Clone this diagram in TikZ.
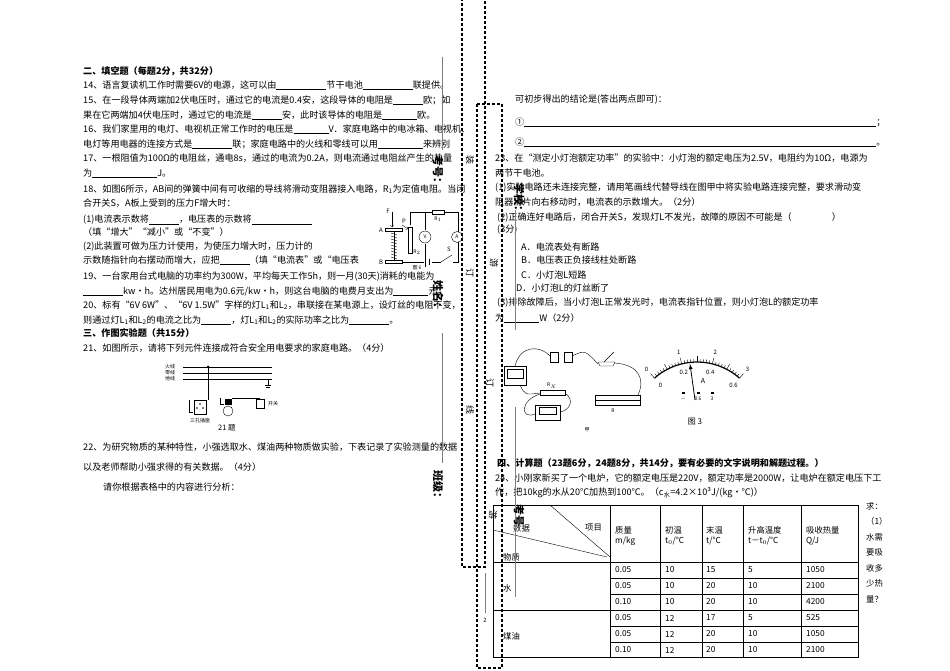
\documentclass[tikz,border=0pt]{standalone}
\usepackage{fontspec}
\setmainfont{Noto Sans CJK SC}
\usetikzlibrary{calc}
\newcommand{\bl}[1]{\rule[-1.5pt]{#1pt}{0.5pt}}
\begin{document}
\begin{tikzpicture}[x=1pt,y=-1pt,
 tx/.style={anchor=west,inner sep=0,font=\fontsize{9.1}{10}\selectfont},
 sm/.style={inner sep=0,font=\fontsize{5}{6}\selectfont},
 vt/.style={inner sep=0,font=\fontsize{11}{12}\selectfont\bfseries,rotate=-90},
 vs/.style={inner sep=0,font=\fontsize{9}{10}\selectfont,rotate=-90},
 dsh/.style={densely dashed,line width=1.1pt},
 gl/.style={gray,line width=0.8pt},
 cell/.style={anchor=west,inner sep=0,font=\fontsize{8.3}{10}\selectfont}]
\useasboundingbox (0,0) rectangle (950,671);
\fill[white] (0,0) rectangle (950,671);
% left column
\node[tx] (a0) at (83,71) {\textbf{二、填空题（每题2分，共32分）}};
\node[tx] (a1) at (83,85) {14、语言复读机工作时需要6V的电源，这可以由\bl{50}节干电池\bl{50}联提供。};
\node[tx] (a2) at (83,100) {15、在一段导体两端加2伏电压时，通过它的电流是0.4安，这段导体的电阻是\bl{30}欧；如};
\node[tx] (a3) at (83,115) {果在它两端加4伏电压时，通过它的电流是\bl{30}安，此时该导体的电阻是\bl{35}欧。};
\node[tx] (a4) at (83,129) {16、我们家里用的电灯、电视机正常工作时的电压是\bl{35}V．家庭电路中的电冰箱、电视机、};
\node[tx] (a5) at (83,144) {电灯等用电器的连接方式是\bl{40}联；家庭电路中的火线和零线可以用\bl{45}来辨别};
\node[tx] (a6) at (83,158) {17、一根阻值为100Ω的电阻丝，通电8s，通过的电流为0.2A，则电流通过电阻丝产生的热量};
\node[tx] (a7) at (83,173) {为\bl{65}J。};
\node[tx] (a8) at (83,189) {18、如图6所示，\textit{AB}间的弹簧中间有可收缩的导线将滑动变阻器接入电路，\textit{R}\textsubscript{1}为定值电阻。当闭};
\node[tx] (a9) at (83,203) {合开关S，A板上受到的压力\textit{F}增大时：};
\node[tx] (a10) at (83,220) {(1)电流表示数将\bl{30}，电压表的示数将\bl{60}};
\node[tx] (a11) at (83,232) {（填“增大”“减小”或“不变”）};
\node[tx] (a12) at (83,247) {(2)此装置可做为压力计使用，为使压力增大时，压力计的};
\node[tx] (a13) at (83,260) {示数随指针向右摆动而增大，应把\bl{30}（填“电流表”或“电压表};
\node[tx] (a14) at (83,277) {19、一台家用台式电脑的功率约为300W，平均每天工作5h，则一月(30天)消耗的电能为};
\node[tx] (a15) at (83,291) {\bl{40}kw•h。达州居民用电为0.6元/kw•h，则这台电脑的电费月支出为\bl{35}元。};
\node[tx] (a16) at (83,305) {20、标有“6V 6W”、“6V 1.5W”字样的灯L\textsubscript{1}和L\textsubscript{2}，串联接在某电源上，设灯丝的电阻不变，};
\node[tx] (a17) at (83,320) {则通过灯L\textsubscript{1}和L\textsubscript{2}的电流之比为\bl{30}，灯L\textsubscript{1}和L\textsubscript{2}的实际功率之比为\bl{40}。};
\node[tx] (a18) at (83,333) {\textbf{三、作图实验题（共15分）}};
\node[tx] (a19) at (83,348) {21、如图所示，请将下列元件连接成符合安全用电要求的家庭电路。（4分）};
\node[tx] (a20) at (83,447) {22、为研究物质的某种特性，小强选取水、煤油两种物质做实验，下表记录了实验测量的数据};
\node[tx] (a21) at (83,467) {以及老师帮助小强求得的有关数据。（4分）};
\node[tx] (a22) at (103,487) {请你根据表格中的内容进行分析：};
% figure 6
\draw (402,262) -- (458,262) -- (458,212) -- (410,212) -- (410,225);
\draw (425,212) -- (425,230); \draw (425,244) -- (425,262);
\node[circle,draw,fill=white,inner sep=0,minimum size=12pt,font=\fontsize{5}{5}\selectfont] (fv) at (425,237) {V};
\node[circle,draw,fill=white,inner sep=0,minimum size=11pt,font=\fontsize{5}{5}\selectfont] (fa) at (457,237) {A};
\node[draw,fill=white,minimum width=12pt,minimum height=4pt,inner sep=0] (fr1) at (438,212) {};
\node[sm,font=\fontsize{5}{5}\selectfont\itshape] (fr1l) at (438,219) {R$_1$};
\node[draw,fill=white,minimum width=4pt,minimum height=26pt,inner sep=0] (fr2) at (410,240) {};
\node[sm,font=\fontsize{5}{5}\selectfont\itshape] (fr2l) at (417,252) {R$_2$};
\draw[fill=white] (385,228) rectangle (402,231);
\draw[fill=white] (385,260) rectangle (402,263);
\foreach \yy in {233,236,...,257} \draw (391,\yy) -- (397,\yy+2);
\draw (394,231) -- (394,260);
\draw[->] (392,212) -- (392,227);
\node[sm,font=\fontsize{6}{6}\selectfont\itshape] (fF) at (388,211) {F};
\node[sm,font=\fontsize{6}{6}\selectfont\itshape] (fA) at (381,230) {A};
\node[sm,font=\fontsize{6}{6}\selectfont\itshape] (fB) at (381,262) {B};
\node[sm,font=\fontsize{6}{6}\selectfont\itshape] (fP) at (404,221) {P};
\draw[->] (402,225) -- (408,229);
\fill[white] (424,258) rectangle (432,266);
\draw (425,257) -- (425,267); \draw (429,259) -- (429,265);
\fill[white] (441,258) rectangle (453,266);
\draw (441,262) -- (452,255);
\node[sm,font=\fontsize{6}{6}\selectfont] (fS) at (449,249) {S};
\node[sm,font=\fontsize{5}{5}\selectfont] (fcap) at (417,268) {图 6};
% figure 21
\node[sm] (w1) at (170,367) {火线};
\node[sm] (w2) at (170,373) {零线};
\node[sm] (w3) at (170,379) {地线};
\draw (183,367) -- (272,367); \draw (183,373) -- (272,373); \draw (183,379) -- (272,379);
\fill (208,367) circle (1.5);
\draw (208,367) -- (208,400);
\draw (268,379) -- (268,385); \draw (265,385) -- (271,385); \draw (266,387) -- (270,387);
\draw (189,400) -- (189,412) -- (193,412);
\node[draw,minimum width=12pt,minimum height=14pt,inner sep=0] (sk) at (200,407) {};
\fill (197,408) circle (0.8); \fill (203,408) circle (0.8); \fill (200,404) circle (0.8);
\node[sm] (skl) at (200,421) {三孔插座};
\draw (220,398) -- (220,404) -- (224,404);
\node[draw,fill=black,minimum width=6pt,minimum height=5pt,inner sep=0] (hold) at (228,402) {};
\node[draw,circle,minimum size=10pt,inner sep=0] (bulb) at (228,411) {};
\draw (232,398) -- (260,398);
\node[draw,minimum width=8pt,minimum height=9pt,inner sep=0] (sw) at (260,404) {};
\node[sm] (swl) at (273,404) {开关};
\node[tx,font=\fontsize{7.5}{8}\selectfont] (c21) at (218,428) {21 题};
% right column
\node[tx] (b0) at (515,100) {可初步得出的结论是(答出两点即可)：};
\node[tx] (b1) at (515,122) {①\bl{352}；};
\node[tx] (b2) at (515,142) {②\bl{352}。};
\node[tx] (b3) at (495,158) {23、在“测定小灯泡额定功率”的实验中：小灯泡的额定电压为2.5V，电阻约为10Ω，电源为};
\node[tx] (b4) at (495,173) {两节干电池。};
\node[tx] (b5) at (495,188) {(1)实验电路还未连接完整，请用笔画线代替导线在图甲中将实验电路连接完整，要求滑动变};
\node[tx] (b6) at (495,202) {阻器滑片向右移动时，电流表的示数增大。（2分）};
\node[tx] (b7) at (497,217) {(2)正确连好电路后，闭合开关S，发现灯L不发光，故障的原因不可能是（\hspace{40pt}）};
\node[tx] (b8) at (497,230) {(3分)};
\node[tx] (b9) at (521,247) {A．电流表处有断路};
\node[tx] (b10) at (521,260) {B．电压表正负接线柱处断路};
\node[tx] (b11) at (521,275) {C．小灯泡L短路};
\node[tx] (b12) at (516,288) {D．小灯泡L的灯丝断了};
\node[tx] (b13) at (497,303) {(3)排除故障后，当小灯泡L正常发光时，电流表指针位置，则小灯泡L的额定功率};
\node[tx] (b14) at (495,318) {为\bl{35}W（2分）};
% figure jia
\draw (504,366) rectangle (526,385); \draw (507,369) rectangle (523,378);
\draw (550,352) rectangle (558,362); \draw (564,352) rectangle (572,362);
\draw (598,362) -- (615,362) -- (613,366) -- (600,366) -- cycle; \draw (604,362) -- (614,352);
\draw (540,390) rectangle (565,395); \node[sm,font=\fontsize{5}{5}\selectfont\itshape] (rxl) at (552,386) {R$_X$};
\draw (535,405) rectangle (560,420); \draw (539,407) rectangle (556,414);
\draw (595,395) rectangle (640,405); \draw (595,400) -- (640,400);
\node[sm,font=\fontsize{5}{5}\selectfont\itshape] (rl) at (613,411) {R};
\draw (515,366) .. controls (520,345) and (540,345) .. (550,356);
\draw (572,356) .. controls (585,350) .. (598,364);
\draw (615,363) .. controls (640,365) and (645,380) .. (638,395);
\draw (520,385) .. controls (525,395) .. (540,393);
\draw (540,394) .. controls (520,400) and (520,420) .. (535,414);
\draw (565,393) .. controls (575,400) and (570,410) .. (560,412);
\node[sm,font=\fontsize{5}{5}\selectfont] (jia) at (587,430) {甲};
% meter fig 3
\coordinate (mc) at (697,426);
\draw[line width=1.2pt] (mc) ++(-131.6:64) arc (-131.6:-48.4:64);
\foreach \a in {0,...,30} { \pgfmathsetmacro\ang{-131.6+\a*83.2/30}
  \pgfmathsetmacro\tl{mod(\a,5)==0?6:3}
  \draw (mc) ++(\ang:64) -- ++(\ang:\tl); }
\foreach \t/\a in {0/0,1/10,2/20,3/30} { \pgfmathsetmacro\ang{-131.6+\a*83.2/30}
  \node[sm,font=\fontsize{6}{6}\selectfont] at ($(mc)+(\ang:76)$) {\t}; }
\foreach \t/\a in {0/0,0.2/10,0.4/20,0.6/30} { \pgfmathsetmacro\ang{-131.6+\a*83.2/30}
  \node[sm,font=\fontsize{6}{6}\selectfont] at ($(mc)+(\ang:55)$) {\t}; }
\draw[-latex,line width=0.8pt] (695,400) -- (690,364);
\node[sm,font=\fontsize{7}{7}\selectfont] (mA) at (703,381) {A};
\foreach \xx/\t in {682/$-$,697/0.6,711/3} {\fill (\xx,392) rectangle ++(3,2); \node[sm,font=\fontsize{5}{5}\selectfont] at (\xx+1,399) {\t};}
\node[sm,font=\fontsize{8}{8}\selectfont] (c3) at (695,422) {图 3};
% section 4
\node[tx] (d0) at (497,463) {\textbf{四、计算题（23题6分，24题8分，共14分，要有必要的文字说明和解题过程。）}};
\node[tx] (d1) at (495,478) {24、小刚家新买了一个电炉，它的额定电压是220V，额定功率是2000W，让电炉在额定电压下工};
\node[tx] (d2) at (495,493) {作，把10kg的水从20℃加热到100℃。（c\textsubscript{水}=4.2×10³J/(kg·℃)）};
% table
\draw (493,505) rectangle (858,657);
\draw (493,562) -- (858,562); \draw (493,610) -- (858,610);
\draw (610,578) -- (858,578); \draw (610,594) -- (858,594);
\draw (610,626) -- (858,626); \draw (610,642) -- (858,642);
\foreach \xx in {610,660,702,743,801} \draw (\xx,505) -- (\xx,657);
\draw (550,505) -- (610,557); \draw (493,530) -- (607,557);
\node[cell] (h0) at (513,528) {数据}; \node[cell] (h1) at (585,528) {项目}; \node[cell] (h2) at (503,557) {物质};
\node[cell,align=left] (h3) at (615,536) {质量\\m/kg};
\node[cell,align=left] (h4) at (665,536) {初温\\t$_0$/℃};
\node[cell,align=left] (h5) at (706,536) {末温\\t/℃};
\node[cell,align=left] (h6) at (748,536) {升高温度\\t－t$_0$/℃};
\node[cell,align=left] (h7) at (806,536) {吸收热量\\Q/J};
\node[cell] (g1) at (503,588) {水}; \node[cell] (g2) at (503,636) {煤油};
\foreach \r/\yy in {{0.05,10,15,5,1050}/570,{0.05,10,20,10,2100}/586,{0.10,10,20,10,4200}/602,{0.05,12,17,5,525}/618,{0.05,12,20,10,1050}/634,{0.10,12,20,10,2100}/650} {
  \foreach \v [count=\i] in \r {
    \pgfmathsetmacro\cx{{615,665,706,748,806}[\i-1]}
    \node[cell] at (\cx,\yy) {\v};}}
\node[tx,align=left,text width=20pt,font=\fontsize{8.3}{15.5}\selectfont,anchor=north west] (q) at (866,502) {求：\\（1）\\水需\\要吸\\收多\\少热\\量？};
% binding margin
\draw[dsh] (462,-2) rectangle (485,567);
\draw[dsh] (477,104) rectangle (502,668);
\draw[gl] (442,57) -- (442,150); \draw[gl] (442,333) -- (442,463);
\draw[gl] (515,210) -- (515,330); \draw[gl] (515,407) -- (515,597);
\draw[gl] (485,573) -- (485,613);
\node[sm,font=\fontsize{6}{6}\selectfont] (pg) at (485,620) {2};
\node[vt] (k1) at (438,172) {考号：};
\node[vt] (k2) at (438,297) {姓名：};
\node[vt] (k3) at (438,487) {班级：};
\node[vt] (k4) at (519,200) {学校：};
\node[vt] (k5) at (519,515) {考号};
\node[vs] (z1) at (470,160) {装};
\node[vs] (z2) at (470,273) {订};
\node[vs] (z3) at (470,410) {线};
\node[vs] (z4) at (494,263) {游};
\node[vs] (z5) at (490,383) {订};
\node[vs] (z6) at (493,515) {游};
\end{tikzpicture}
\end{document}
